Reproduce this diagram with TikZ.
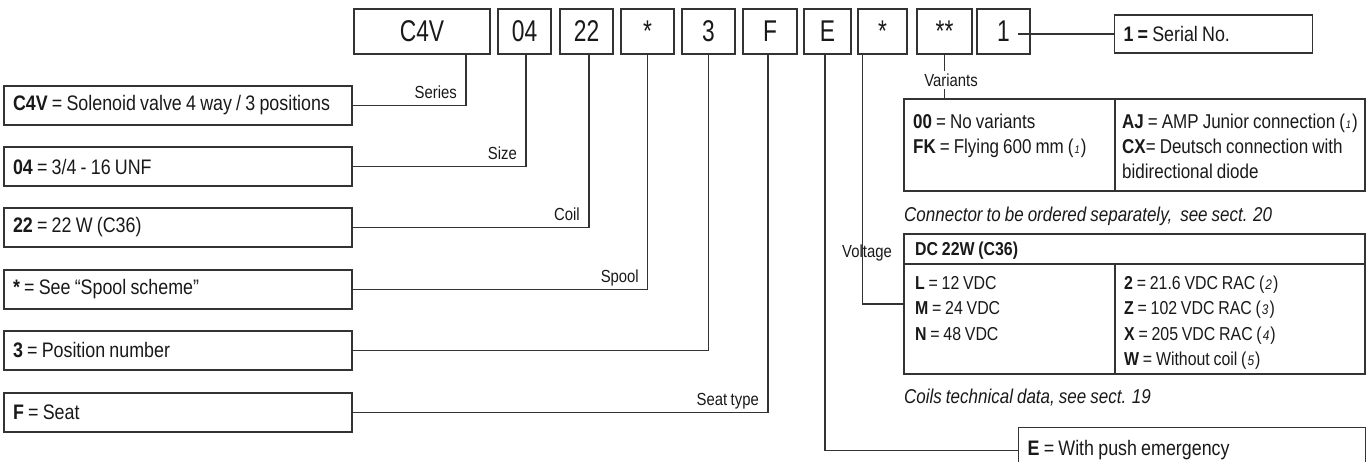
\documentclass[tikz,border=0pt]{standalone}
\usepackage{fontspec}
\setmainfont{Liberation Sans}[FakeStretch=0.85,WordSpace=0.85]
\newfontfamily\codefont{Liberation Sans}[FakeStretch=0.76]
\usepackage{tikz}
\usetikzlibrary{positioning}

\newcommand{\fnref}[2][15]{(\kern1pt{\itshape\fontsize{#1}{16}\selectfont #2}\kern1pt)}

\begin{document}
\begin{tikzpicture}[x=1pt,y=-1pt,
  every node/.style={font=\fontsize{20}{25}\selectfont,text=black!90},
  code/.style={draw=black!80,line width=1.3pt,minimum height=45pt,inner sep=0pt,
    font=\codefont\fontsize{30}{32}\selectfont},
  desc/.style={draw=black!80,line width=1.3pt,minimum width=348pt,minimum height=39pt,
    text width=330pt,align=flush left,inner xsep=9pt,inner ysep=0pt,
    font=\fontsize{21}{25}\selectfont},
  tab/.style={draw=black!80,line width=1.3pt,inner sep=0pt},
  row/.style={anchor=base west,inner sep=0pt},
  dcrow/.style={row,font=\fontsize{18.7}{22}\selectfont},
  lbl/.style={anchor=base east,inner sep=0pt,font=\fontsize{17.5}{20}\selectfont},
  note/.style={anchor=base west,inner sep=0pt,font=\itshape\fontsize{20}{22}\selectfont},
  lead/.style={line width=1.1pt,black!80}]
  \useasboundingbox (0,0) rectangle (1368,462);
  % code boxes
  \node[code,minimum width=136pt] (c4v)    at (422,31.5)   {C4V};
  \node[code,minimum width=53pt]  (size)   at (524.5,31.5) {04};
  \node[code,minimum width=53pt]  (coil)   at (586.5,31.5) {22};
  \node[code,minimum width=53pt]  (spool)  at (647.5,31.5) {*};
  \node[code,minimum width=53pt]  (pos)    at (708.5,31.5) {3};
  \node[code,minimum width=54pt]  (seat)   at (770,31.5)   {F};
  \node[code,minimum width=47pt]  (emerg)  at (827.5,31.5) {E};
  \node[code,minimum width=49pt]  (volt)   at (882.5,31.5) {*};
  \node[code,minimum width=55pt]  (var)    at (944.5,31.5) {**};
  \node[code,minimum width=53pt]  (serial) at (1003.5,31.5) {1};
  % left descriptions
  \node[desc] (dseries) at (178,105.5) {\textbf{C4V} = Solenoid valve 4 way / 3 positions};
  \node[desc] (dsize)   at (178,166.5) {\textbf{04} = 3/4 - 16 UNF};
  \node[desc] (dcoil)   at (178,227.5) {\textbf{22} = 22 W (C36)};
  \node[desc] (dspool)  at (178,289.5) {\textbf{*} = See “Spool scheme”};
  \node[desc] (dpos)    at (178,350.5) {\textbf{3} = Position number};
  \node[desc] (dseat)   at (178,412.5) {\textbf{F} = Seat};
  % right descriptions
  \node[desc,minimum width=197pt,text width=180pt,minimum height=38pt] (dserial)
    at (1213.5,34) {\textbf{1 =} Serial No.};
  \node[tab,minimum width=461pt,minimum height=92pt] (dvar) at (1134.5,145) {};
  \draw[tab] ([xshift=-19.5pt]dvar.north) -- ([xshift=-19.5pt]dvar.south);
  \node[row] (v1) at (913,129)  {\textbf{00} = No variants};
  \node[row] (v2) at (913,154)  {\textbf{FK} = Flying 600 mm \fnref[11]{1}};
  \node[row] (v3) at (1122,129) {\textbf{AJ} = AMP Junior connection \fnref[11]{1}};
  \node[row] (v4) at (1122,154) {\textbf{CX}= Deutsch connection with};
  \node[row] (v5) at (1122,179) {bidirectional diode};
  \node[note] (nvar) at (904,222) {Connector to be ordered separately,\ \ see sect. 20};
  \node[tab,minimum width=461pt,minimum height=140pt] (dvolt) at (1134.5,304) {};
  \draw[tab] (dvolt.west |- 0,264) -- (dvolt.east |- 0,264);
  \draw[tab] (1115,264) -- (1115,0 |- dvolt.south);
  \node[dcrow] (dchead) at (915,256) {\textbf{DC 22W (C36)}};
  \node[dcrow] (c1) at (915,290)  {\textbf{L} = 12 VDC};
  \node[dcrow] (c2) at (915,315)  {\textbf{M} = 24 VDC};
  \node[dcrow] (c3) at (915,340)  {\textbf{N} = 48 VDC};
  \node[dcrow] (c4) at (1124,290) {\textbf{2} = 21.6 VDC RAC \fnref[14]{2}};
  \node[dcrow] (c5) at (1124,315) {\textbf{Z} = 102 VDC RAC \fnref[14]{3}};
  \node[dcrow] (c6) at (1124,340) {\textbf{X} = 205 VDC RAC \fnref[14]{4}};
  \node[dcrow] (c7) at (1124,365) {\textbf{W} = Without coil \fnref[14]{5}};
  \node[note] (nvolt) at (904,403) {Coils technical data, see sect. 19};
  \node[desc,anchor=north west,minimum width=347pt,minimum height=45pt,text width=329pt]
    (demerg) at (1018,427) {\textbf{E} = With push emergency};
  % leads
  \draw[lead] ([xshift=44pt]c4v.south) |- (dseries.east);
  \draw[lead] ([xshift=1.5pt]size.south) |- (dsize.east);
  \draw[lead] ([xshift=2.5pt]coil.south) |- (dcoil.east);
  \draw[lead] (spool.south) |- (dspool.east);
  \draw[lead] (pos.south) |- (dpos.east);
  \draw[lead] ([xshift=-2pt]seat.south) |- (dseat.east);
  \draw[lead] ([xshift=-2.5pt]emerg.south) |- (demerg.west);
  \draw[lead] ([xshift=-20pt]volt.south) |- (dvolt.west);
  \draw[lead] (var.south) -- (var.south |- dvar.north);
  \coordinate (s1) at ([xshift=14.5pt]serial.center);
  \draw[lead] (s1 |- dserial.west) -- (dserial.west);
  % labels
  \node[lbl] at (457,99)    {Series};
  \node[lbl] at (517,159.5) {Size};
  \node[lbl] at (580,220.5) {Coil};
  \node[lbl] at (639,282.5) {Spool};
  \node[lbl] at (759,405.5) {Seat type};
  \node[lbl,anchor=center,fill=white,inner ysep=3pt] at (951,80) {Variants};
  \node[lbl,anchor=center] at (867,253) {Voltage};
\end{tikzpicture}
\end{document}
